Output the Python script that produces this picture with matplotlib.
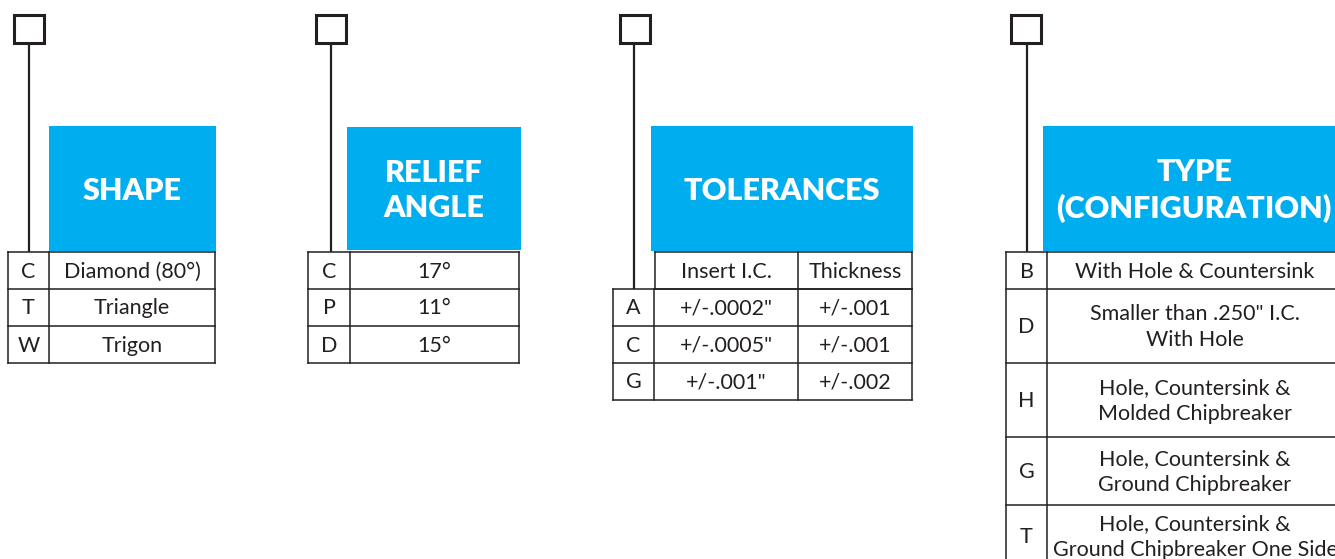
"""
Insert designation key: four code boxes with blue headers and lookup tables.
"""
import matplotlib.pyplot as plt
from matplotlib.patches import Rectangle

# Text content of each panel
headers = ['SHAPE', 'RELIEF\nANGLE', 'TOLERANCES', 'TYPE\n(CONFIGURATION)']

shape_codes = ['C', 'T', 'W']
shape_names = ['Diamond (80°)', 'Triangle', 'Trigon']

relief_codes = ['C', 'P', 'D']
relief_angles = ['17°', '11°', '15°']

tol_columns = ['Insert I.C.', 'Thickness']
tol_codes = ['A', 'C', 'G']
tol_ic = ['+/-.0002"', '+/-.0005"', '+/-.001"']
tol_thick = ['+/-.001', '+/-.001', '+/-.002']

type_codes = ['B', 'D', 'H', 'G', 'T']
type_names = ['With Hole & Countersink',
              'Smaller than .250" I.C.\nWith Hole',
              'Hole, Countersink &\nMolded Chipbreaker',
              'Hole, Countersink &\nGround Chipbreaker',
              'Hole, Countersink &\nGround Chipbreaker One Side']

BLUE = '#00AEEF'
INK = '#231F20'
FONT = ['Lato', 'DejaVu Sans']

fig = plt.figure(figsize=(13.35, 5.59), dpi=100)
ax = fig.add_axes([0, 0, 1, 1])
ax.set_xlim(0, 1335)
ax.set_ylim(559, 0)
ax.axis('off')


def code_box(x, line_x, line_end):
    ax.add_patch(Rectangle((x, 15), 30, 28, fill=False, edgecolor=INK, lw=2.2))
    ax.plot([line_x, line_x], [43, line_end], color=INK, lw=1.6, solid_capstyle='butt')


def header(x0, x1, y0, y1, text, cx=None):
    ax.add_patch(Rectangle((x0, y0), x1 - x0, y1 - y0, color=BLUE, lw=0))
    cx = (x0 + x1) / 2 if cx is None else cx
    ax.text(cx, (y0 + y1) / 2 + 2, text, color='white', fontsize=22, fontweight='heavy',
            ha='center', va='center', family=FONT, linespacing=1.3)


def table(cols, rows, cells):
    for y in rows:
        ax.plot([cols[0], cols[-1]], [y, y], color=INK, lw=1.1)
    for x in cols:
        ax.plot([x, x], [rows[0], rows[-1]], color=INK, lw=1.1)
    for i, row in enumerate(cells):
        cy = (rows[i] + rows[i + 1]) / 2
        for j, txt in enumerate(row):
            cx = (cols[j] + cols[j + 1]) / 2
            ax.text(cx, cy + 1, txt, color=INK, fontsize=15.5, ha='center', va='center',
                    family=FONT, linespacing=1.35)


# Panel 1: shape
code_box(14, 29, 252)
header(49, 216, 126, 251, headers[0])
table([8, 49, 215], [252, 289, 326, 363], list(zip(shape_codes, shape_names)))

# Panel 2: relief angle
code_box(316, 331, 252)
header(347, 521, 127, 250, headers[1])
table([308, 350, 519], [252, 289, 326, 363], list(zip(relief_codes, relief_angles)))

# Panel 3: tolerances
code_box(620, 634, 289)
header(651, 913, 126, 251, headers[2])
table([655, 798, 912], [252, 289], [tol_columns])
table([613, 654, 798, 912], [289, 326, 363, 400], list(zip(tol_codes, tol_ic, tol_thick)))

# Panel 4: type (configuration)
code_box(1011, 1027, 252)
header(1043, 1345, 126, 251, headers[3], cx=1194)
table([1006, 1047, 1343], [252, 289, 363, 437, 505, 567], list(zip(type_codes, type_names)))

plt.savefig('out.png', dpi=100, facecolor='white')
